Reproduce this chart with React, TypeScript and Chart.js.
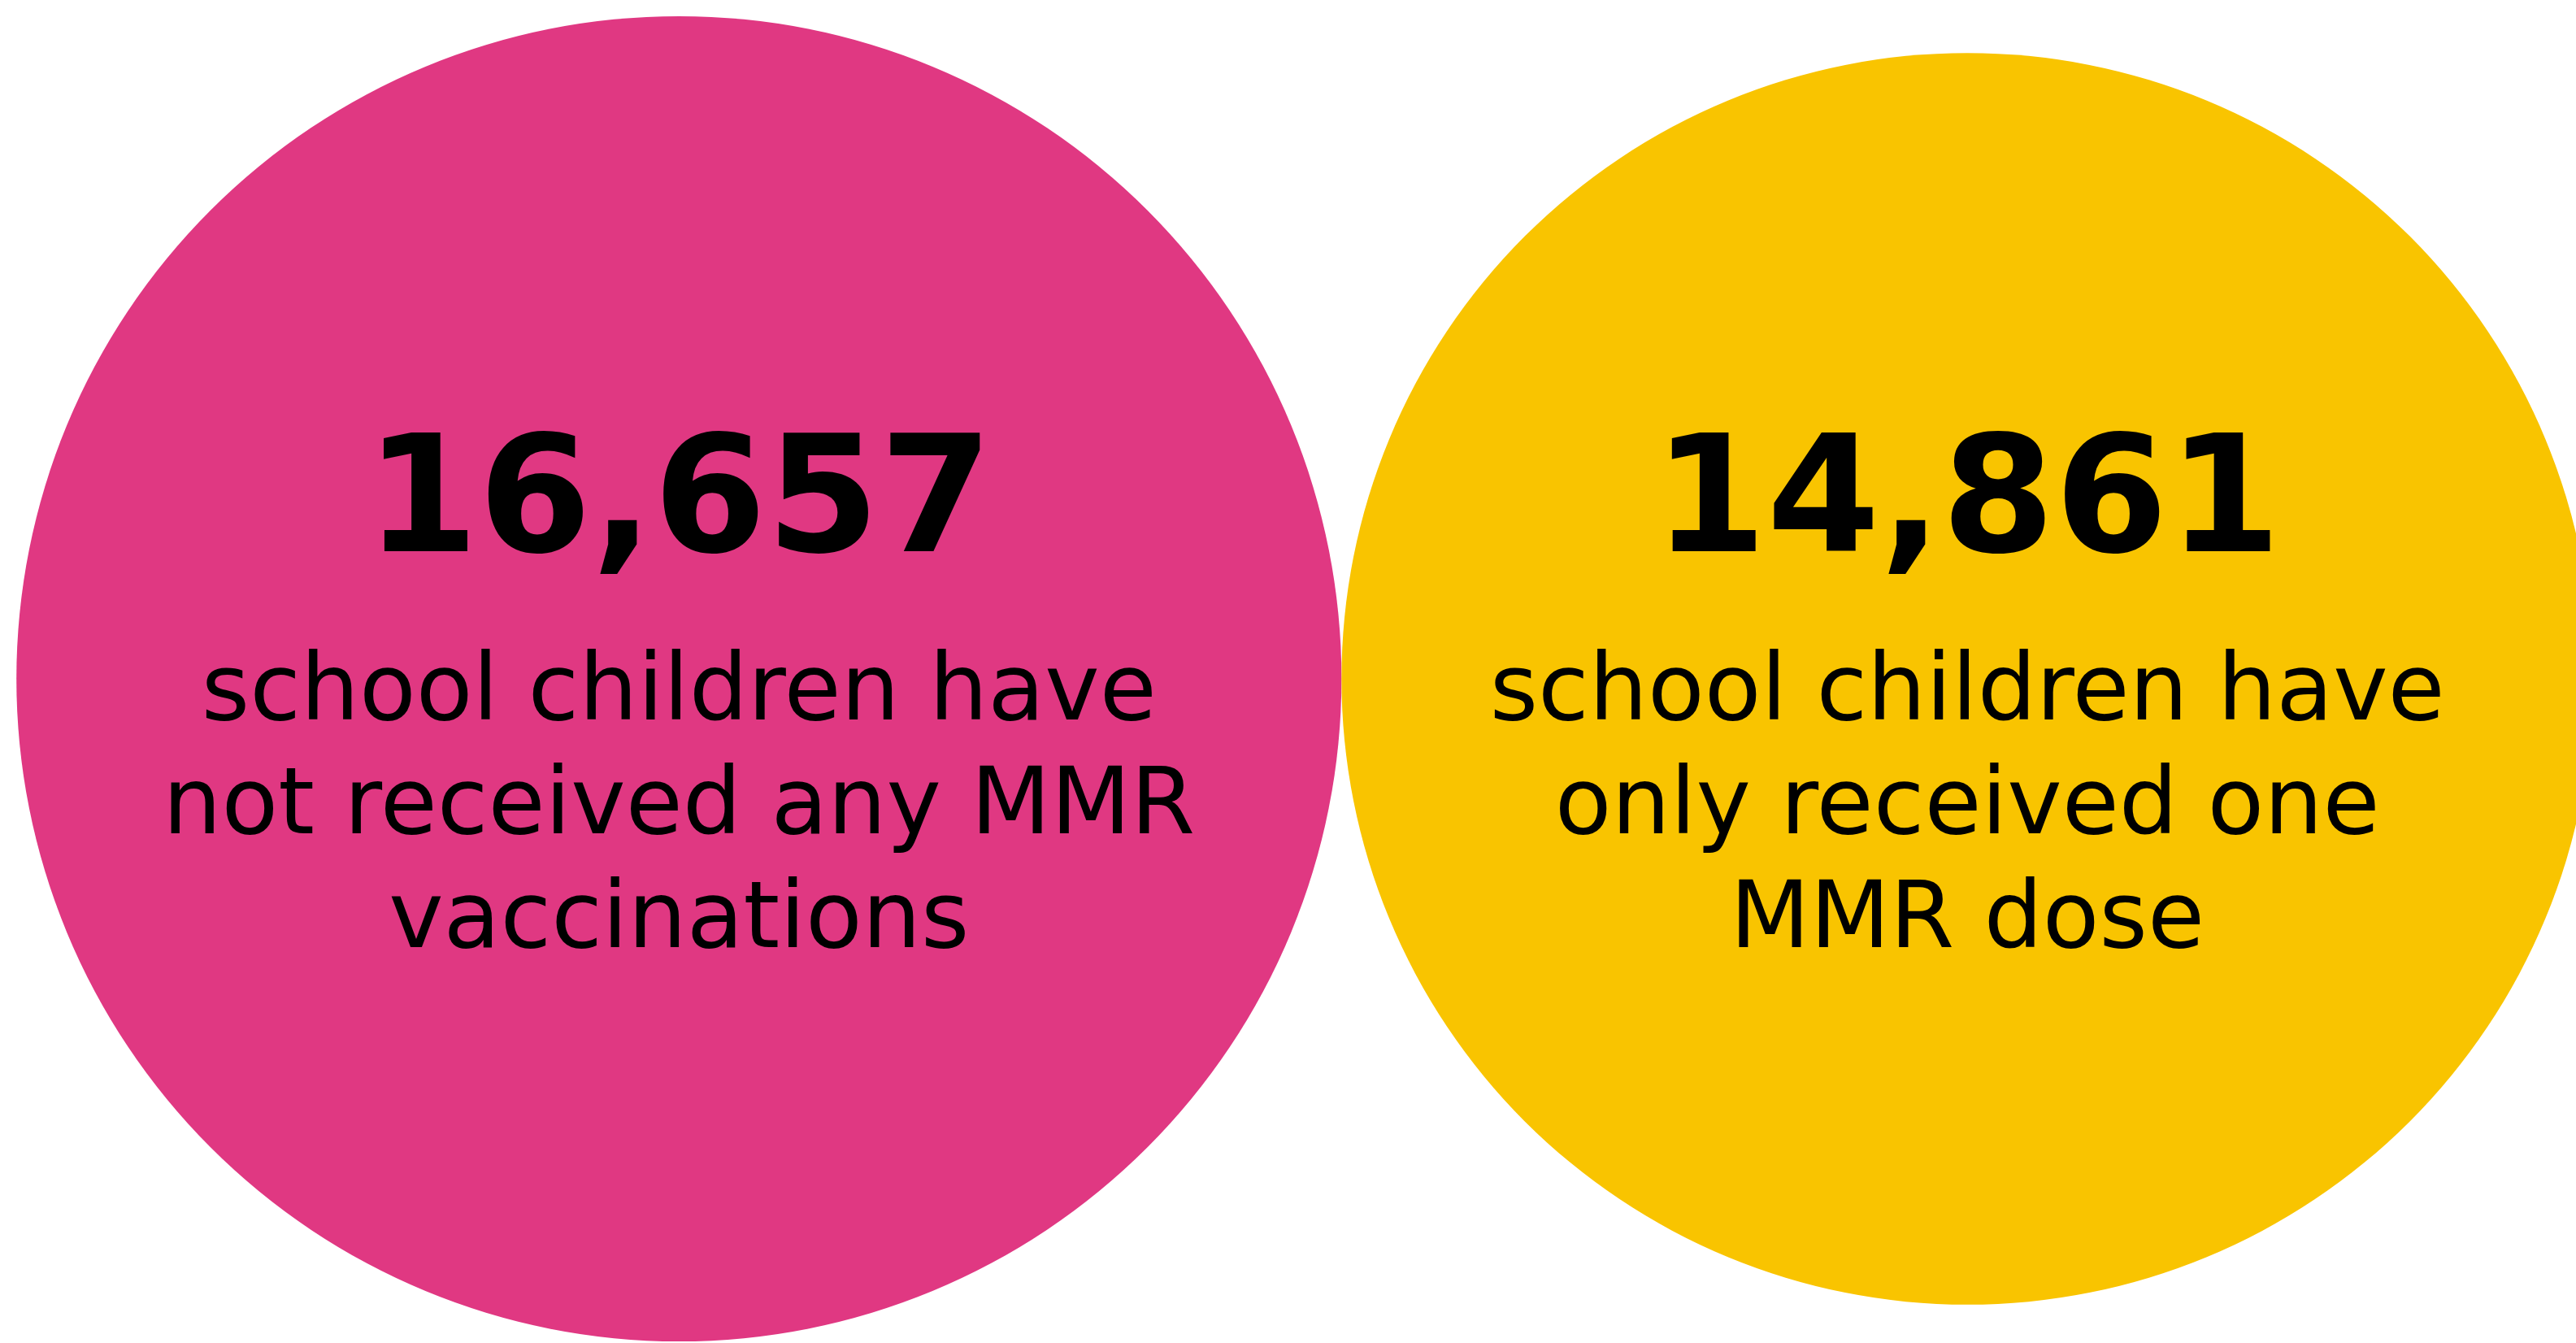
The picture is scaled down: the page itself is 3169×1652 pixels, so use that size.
import React, { useEffect, useRef } from 'react';
import { Chart, registerables } from 'chart.js';

Chart.register(...registerables);

// ---- data ----
const categories = ['No MMR vaccinations', 'One MMR dose'];
const counts = [16657, 14861];
const descriptionLines = [
  ['school children have', 'not received any MMR', 'vaccinations'],
  ['school children have', 'only received one', 'MMR dose'],
];
const bubbleColors = ['#E03882', '#F9C400'];

// axis limits, in units of sqrt(children)
const X_MIN = -3.2;
const X_MAX = 498.6;
const CANVAS_W = 3169;
const CANVAS_H = 1652;

// bubble area is proportional to the count: radius = sqrt(count), placed side by side
const radiiUnits = counts.map((c) => Math.sqrt(c));
const centersX = radiiUnits.map((r, i) => radiiUnits.slice(0, i).reduce((s, v) => s + 2 * v, 0) + r);
const pxPerUnit = CANVAS_W / (X_MAX - X_MIN);
const points = categories.map((_, i) => ({ x: centersX[i], y: 0, r: radiiUnits[i] * pxPerUnit }));

const labelPlugin = {
  id: 'bubbleLabels',
  afterDatasetsDraw(chart: any) {
    const ctx = chart.ctx;
    const meta = chart.getDatasetMeta(0);
    ctx.save();
    ctx.fillStyle = '#000000';
    ctx.textAlign = 'center';
    ctx.textBaseline = 'alphabetic';
    meta.data.forEach((el: any, i: number) => {
      const cx = el.x;
      const cy = el.y;
      ctx.font = 'bold 200px "DejaVu Sans"';
      ctx.fillText(counts[i].toLocaleString('en-US'), cx, cy - 157);
      ctx.font = '114px "DejaVu Sans"';
      descriptionLines[i].forEach((line, j) => {
        ctx.fillText(line, cx, cy + 50 + j * 140);
      });
    });
    ctx.restore();
  },
};

export default function App() {
  const canvasRef = useRef<HTMLCanvasElement | null>(null);

  useEffect(() => {
    document.body.style.margin = '0';
    document.body.style.background = '#ffffff';
    const canvas = canvasRef.current;
    if (!canvas) return;
    const chart = new Chart(canvas, {
      type: 'bubble',
      data: {
        labels: categories,
        datasets: [
          {
            label: 'School children',
            data: points,
            backgroundColor: bubbleColors,
            borderWidth: 0,
            hoverBorderWidth: 0,
            clip: false as any,
          } as any,
        ],
      },
      options: {
        animation: false,
        responsive: true,
        maintainAspectRatio: false,
        events: [],
        layout: { autoPadding: false, padding: { top: 18, left: 0, right: 0, bottom: 0 } },
        scales: {
          x: { type: 'linear', min: X_MIN, max: X_MAX, display: false },
          y: { type: 'linear', min: -1, max: 1, display: false },
        },
        plugins: {
          legend: { display: false },
          tooltip: { enabled: false },
        },
      },
      plugins: [labelPlugin],
    });
    return () => chart.destroy();
  }, []);

  return (
    <div style={{ width: CANVAS_W + 'px', height: CANVAS_H + 'px', position: 'relative' }}>
      <canvas ref={canvasRef} />
    </div>
  );
}
